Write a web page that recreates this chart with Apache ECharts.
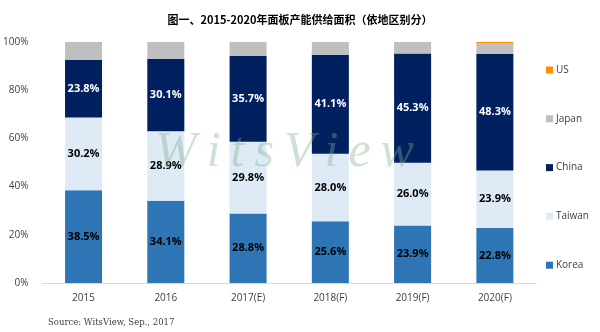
<!DOCTYPE html>
<html><head><meta charset="utf-8">
<script src="https://cdn.jsdelivr.net/npm/echarts@6/dist/echarts.min.js"></script>
<style>html,body{margin:0;padding:0;background:#fff}#c{width:600px;height:332px}</style>
</head><body><div id="c"></div>
<script>
const categories = ['2015','2016','2017(E)','2018(F)','2019(F)','2020(F)'];
const korea  = [38.5, 34.1, 28.8, 25.6, 23.9, 22.8];
const taiwan = [30.2, 28.9, 29.8, 28.0, 26.0, 23.9];
const china  = [23.8, 30.1, 35.7, 41.1, 45.3, 48.3];
const japan  = [7.5, 6.9, 5.7, 5.3, 4.8, 4.5];
const us     = [0, 0, 0, 0, 0, 0.5];
const yTicks = [0, 20, 40, 60, 80, 100];

const font = 'Open Sans';
const chart = echarts.init(document.getElementById('c'));
function ser(name, data, color, labelColor, showLabel) {
  return {
    name, type: 'bar', stack: 'a', data, barWidth: '45%',
    itemStyle: { color },
    label: {
      show: showLabel, position: 'inside', color: labelColor,
      fontFamily: font, fontWeight: 'bold', fontSize: 11,
      formatter: p => p.value.toFixed(1) + '%'
    }
  };
}
chart.setOption({
  animation: false,
  title: {
    text: '图一、2015-2020年面板产能供给面积（依地区别分）',
    left: 'center', top: 9,
    textStyle: { fontFamily: 'Noto Sans CJK SC', fontWeight: 'bold', fontSize: 11, color: '#000' }
  },
  grid: { left: 42, right: 64, top: 42, bottom: 49 },
  legend: {
    orient: 'vertical', right: 6, top: 60, itemGap: 38.8,
    itemWidth: 7, itemHeight: 7, icon: 'rect',
    data: ['US', 'Japan', 'China', 'Taiwan', 'Korea'],
    textStyle: { fontFamily: font, fontSize: 10, color: '#404040', padding: [0, 0, 0, -2] }
  },
  xAxis: {
    type: 'category', data: categories,
    axisLine: { lineStyle: { color: '#D9D9D9' } },
    axisTick: { show: false },
    axisLabel: { fontFamily: font, fontSize: 10, color: '#404040', margin: 10 }
  },
  yAxis: {
    type: 'value', min: 0, max: 100, interval: 20,
    splitLine: { show: false },
    axisLabel: { fontFamily: font, fontSize: 10, color: '#404040', margin: 14,
      formatter: v => yTicks.includes(v) ? v + '%' : '' }
  },
  series: [
    ser('Korea', korea, '#2E75B6', '#000', true),
    ser('Taiwan', taiwan, '#DEEBF7', '#000', true),
    ser('China', china, '#002060', '#fff', true),
    ser('Japan', japan, '#BFBFBF', '#000', false),
    ser('US', us, '#FF8C00', '#000', false)
  ],
  graphic: [
    { type: 'text', left: 48, top: 318,
      style: { text: 'Source: WitsView, Sep., 2017', fontFamily: 'DejaVu Serif', fontSize: 8.5, fill: '#404040' } },
    { type: 'text', left: 155, top: 128, z: 100, silent: true,
      style: { text: 'W\u2009i\u2009t\u2009s\u2009V\u2009i\u2009e\u2009w', fontFamily: 'Liberation Serif', fontStyle: 'italic', fontSize: 50,
        fill: 'rgba(125,175,140,0.38)' } }
  ]
});
</script></body></html>
